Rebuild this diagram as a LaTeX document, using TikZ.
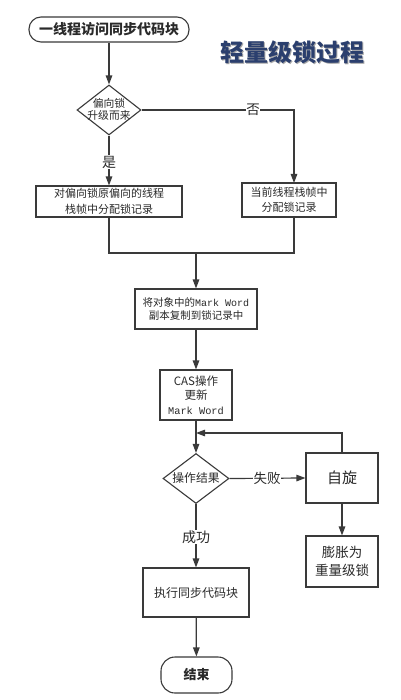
\documentclass[tikz,border=0pt]{standalone}
\usepackage{fontspec}
\setmainfont{Noto Sans CJK SC}
\newfontfamily\mymono{Liberation Mono}
\usetikzlibrary{shapes.geometric,arrows.meta}
\definecolor{ln}{HTML}{3A3A3A}
\definecolor{tx}{HTML}{2A2A2A}
\definecolor{navy}{HTML}{2B3F6E}
\begin{document}
\begin{tikzpicture}[x=1pt,y=-1pt,
  box/.style={draw=ln, line width=1.1pt, fill=white, inner sep=1pt, align=center, text=tx,
              font=\fontsize{11}{15.5}\selectfont},
  dia/.style={diamond, draw=ln, line width=1.1pt, fill=white, inner sep=0pt},
  arr/.style={draw=ln, line width=1.2pt, -{Triangle[length=9pt,width=6.5pt]}},
  pln/.style={draw=ln, line width=1.2pt},
  lbl/.style={fill=white, inner sep=0.5pt, text=tx, font=\fontsize{13.5}{15}\selectfont},
  term/.style={draw=ln, line width=1.1pt, fill=white, rounded corners=12pt, inner sep=1pt, text=tx}
]
\useasboundingbox[fill=white] (0,0) rectangle (400,700);

% title
\node[text=black!35, font=\fontsize{24}{26}\bfseries\selectfont] (titsh) at (293.5,53.5) {轻量级锁过程};
\node[text=navy, font=\fontsize{24}{26}\bfseries\selectfont] (tit) at (292,52) {轻量级锁过程};

% nodes
\node[term, minimum width=160pt, minimum height=25pt, font=\fontsize{14}{16}\bfseries\selectfont] (start) at (109,29.5) {一线程访问同步代码块};

\node[dia, minimum width=64pt, minimum height=50pt] (d1) at (109,110) {};
\node[align=center, text=tx, font=\fontsize{10.8}{12}\selectfont] (d1t) at (109,109) {偏向锁\\升级而来};

\node[box, minimum width=146pt, minimum height=31pt] (lb) at (109,201.5) {对偏向锁原偏向的线程\\栈帧中分配锁记录};
\node[box, minimum width=94pt, minimum height=34pt] (rb) at (289,200) {当前线程栈帧中\\分配锁记录};

\node[box, minimum width=122pt, minimum height=40pt, font=\fontsize{10.5}{13.5}\selectfont] (b3) at (196,309)
  {将对象中的{\mymono\fontsize{10}{13.5}\selectfont Mark Word}\\副本复制到锁记录中};
\node[box, minimum width=72pt, minimum height=50pt, font=\fontsize{11.5}{14.5}\selectfont] (b4) at (196,395)
  {CAS操作\\更新\\{\mymono\fontsize{10.3}{14.5}\selectfont Mark Word}};

\node[dia, minimum width=66pt, minimum height=50pt] (d2) at (196,478.5) {};
\node[text=tx, font=\fontsize{11.8}{13}\selectfont] (d2t) at (196,478) {操作结果};

\node[box, minimum width=72pt, minimum height=50pt, font=\fontsize{15}{17}\selectfont] (spin) at (342,478) {自旋};
\node[box, minimum width=72pt, minimum height=51pt, font=\fontsize{13.5}{18}\selectfont] (heavy) at (342,561.5) {膨胀为\\重量级锁};

\node[box, minimum width=106pt, minimum height=49pt, font=\fontsize{12}{14}\selectfont] (exec) at (196,592.5) {执行同步代码块};
\node[term, minimum width=71pt, minimum height=36pt, rounded corners=14pt, font=\fontsize{13}{15}\bfseries\selectfont] (end) at (196.5,675) {结束};

% helper coordinates
\coordinate (rbin) at (294,183);
\coordinate (rbout) at (294,217);
\coordinate (jl) at (109,253);
\coordinate (jr) at (294,253);
\coordinate (j) at (196,253);
\coordinate (fbup) at (342,433);
\coordinate (fbin) at (196,433);

% connectors
\draw[arr] (start) -- (d1);
\draw[arr] (d1.east) -| (rbin);
\draw[arr] (d1.south) -- (lb.north);
\draw[pln] (lb.south) -- (jl) -- (jr) -- (rbout);
\draw[arr] (j) -- (b3.north);
\draw[arr] (b3) -- (b4);
\draw[arr] (b4) -- (d2.north);
\draw[arr] (spin.north) -- (fbup) -- (fbin);
\draw[arr] (d2.east) -- (spin.west);
\draw[arr] (spin) -- (heavy);
\draw[arr] (d2.south) -- (exec.north);
\draw[arr] (exec) -- (end);

% labels
\node[lbl] (no) at (253,110) {否};
\node[lbl, font=\fontsize{14}{16}\selectfont] (yes) at (109,162) {是};
\node[lbl] (fail) at (267,478) {失败};
\node[lbl, font=\fontsize{14}{16}\selectfont] (ok) at (196,537) {成功};
\end{tikzpicture}
\end{document}
